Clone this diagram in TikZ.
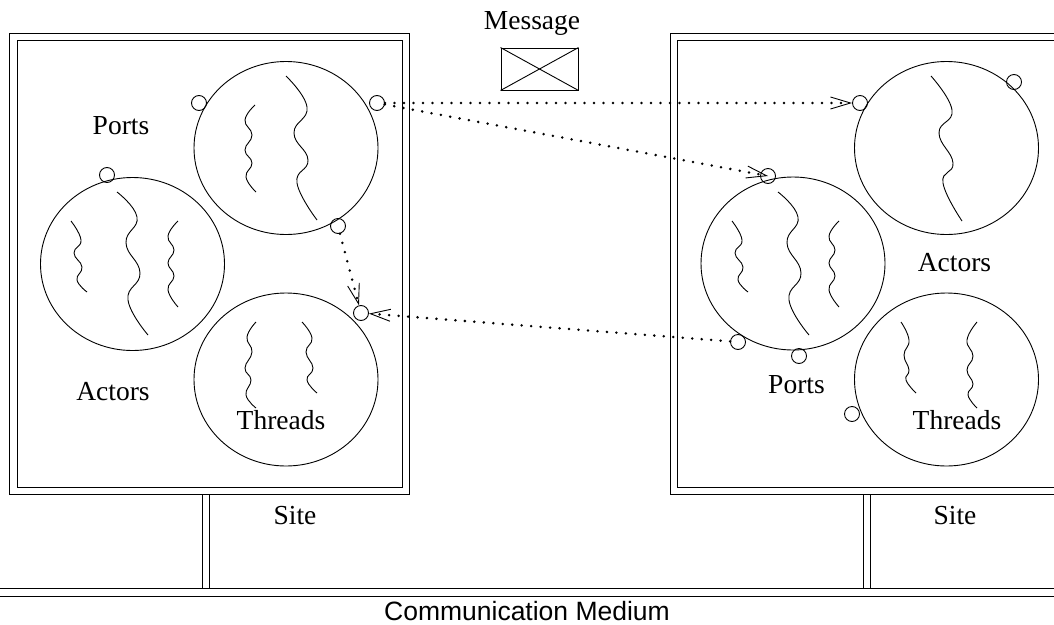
\documentclass[tikz,border=0pt]{standalone}
\usepackage{fontspec}
\setmainfont{Liberation Serif}
\newfontfamily\medfont{Liberation Sans}
\usetikzlibrary{arrows.meta,shapes.geometric}
\begin{document}
\begin{tikzpicture}[x=1pt,y=-1pt,
  line width=0.9pt,
  lbl/.style={anchor=base, inner sep=0pt, font=\fontsize{27.5}{30}\selectfont},
  port/.style={circle, draw, minimum size=15pt, inner sep=0pt},
  proc/.style={ellipse, draw, minimum width=184pt, minimum height=173pt, inner sep=0pt},
  wave/.style={line width=0.9pt},
  msgline/.style={line width=2.8pt, dash pattern=on 0pt off 9.5pt, line cap=round,
    -{Straight Barb[length=20pt,width=12pt,line width=0.9pt,line cap=butt]}},
]
\useasboundingbox (0,0) rectangle (1054,624);
\clip (0,0) rectangle (1054,624);

% sites
\draw (9,33) rectangle (409,494);
\draw (17,40) rectangle (402,487);
\draw (670,33) rectangle (1070,494);
\draw (677,40) rectangle (1062,487);
% posts and medium
\draw (202,494) -- (202,588) (209,494) -- (209,588);
\draw (863,494) -- (863,588) (870,494) -- (870,588);
\draw (0,588) -- (1054,588) (0,596) -- (1054,596);

% big circles
\node[proc] (lports) at (286,148) {};
\node[proc] (lactor) at (132.5,264) {};
\node[proc] (lthread) at (286,379.5) {};
\node[proc] (ractor) at (946.5,148) {};
\node[proc] (rports) at (793,263.5) {};
\node[proc] (rthread) at (946.5,379.5) {};

% threads (wavy lines)
\begin{scope}[smooth, tension=0.8]
\draw[wave] plot coordinates {(255,105) (245,120) (252,135) (245,150) (252,163) (246,177) (256,192)};
\draw[wave] plot coordinates {(286,76) (307,107) (294,133) (308,160) (297,183) (317,220)};
\foreach \dx in {0,661}{
\begin{scope}[xshift=\dx]
\draw[wave] plot coordinates {(71,221) (81,240) (74,253) (82,267) (77,280) (87,292)};
\draw[wave] plot coordinates {(117,192) (137,217) (126,243) (140,273) (128,300) (148,335)};
\draw[wave] plot coordinates {(178,221) (168,236) (174,250) (168,263) (174,276) (168,290) (178,307)};
\end{scope}}
\draw[wave] plot coordinates {(256,322) (247,337) (252,352) (245,368) (251,380) (246,395) (256,408)};
\draw[wave] plot coordinates {(302,322) (312,338) (306,352) (313,368) (307,380) (317,393)};
\draw[wave] plot coordinates {(931,76) (952,110) (939,133) (953,163) (943,183) (962,221)};
\draw[wave] plot coordinates {(901,322) (909,340) (904,355) (909,370) (906,380) (916,393)};
\draw[wave] plot coordinates {(977,322) (967,340) (973,356) (967,370) (973,384) (968,395) (977,408)};
\end{scope}

% ports
\node[port] (pL1) at (199,103) {};
\node[port] (pL2) at (377,103) {};
\node[port] (pL3) at (107,175) {};
\node[port] (pL4) at (338,226) {};
\node[port] (pL5) at (361,313) {};
\node[port] (pR1) at (860,103) {};
\node[port] (pR2) at (1014,82) {};
\node[port] (pR3) at (768,176) {};
\node[port] (pR4) at (738,342) {};
\node[port] (pR5) at (799,356) {};
\node[port] (pR6) at (852,414) {};

% messages
\draw[msgline] (pL2) -- (pR1);
\draw[msgline] (pL2) -- (pR3.center);
\draw[msgline] (pL4) -- (pL5);
\draw[msgline] (pR4) -- (pL5);

% message box
\node[draw, minimum width=77pt, minimum height=42pt, inner sep=0pt] (mbox) at (539.5,69) {};
\draw (mbox.north west) -- (mbox.south east) (mbox.south west) -- (mbox.north east);

% labels
\node[lbl] (tmsg) at (532,29) {Message};
\node[lbl] (tlp) at (121,134) {Ports};
\node[lbl] (tla) at (113,400.5) {Actors};
\node[lbl] (tlt) at (281,429) {Threads};
\node[lbl] (tra) at (954.5,271) {Actors};
\node[lbl] (trp) at (796.5,393) {Ports};
\node[lbl] (trt) at (957,429) {Threads};
\node[lbl] (tls) at (295,524) {Site};
\node[lbl] (trs) at (955,524) {Site};
\node[anchor=base, inner sep=0pt, font=\medfont\fontsize{26.5}{30}\selectfont] (tcm) at (527,620) {Communication Medium};
\end{tikzpicture}
\end{document}
